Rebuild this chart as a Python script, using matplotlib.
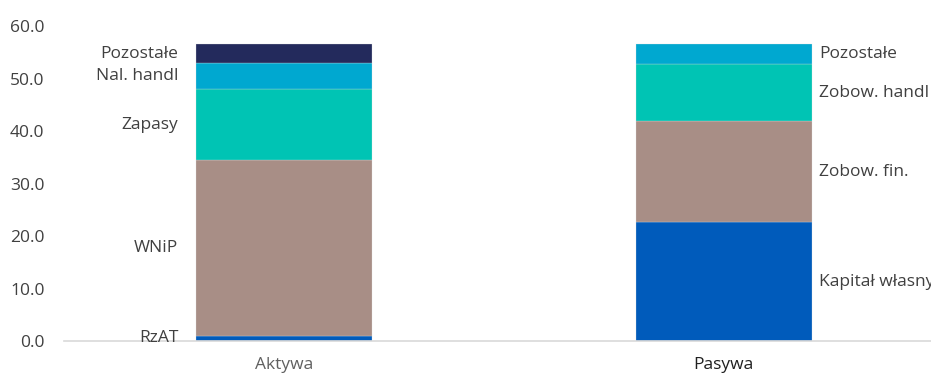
import matplotlib.pyplot as plt
import numpy as np

plt.rcParams['font.family'] = ['Open Sans', 'DejaVu Sans']

kategorie = ['Aktywa', 'Pasywa']

# Aktywa (od dołu)
aktywa_nazwy = ['RzAT', 'WNiP', 'Zapasy', 'Nal. handl', 'Pozostałe']
aktywa_wart = [1.0, 33.5, 13.5, 4.9, 3.7]
aktywa_kolory = ['#005bbb', '#a88e86', '#00c4b4', '#00a8d0', '#232a5c']

# Pasywa (od dołu)
pasywa_nazwy = ['Kapitał własny', 'Zobow. fin.', 'Zobow. handl', 'Pozostałe']
pasywa_wart = [22.6, 19.3, 10.8, 3.9]
pasywa_kolory = ['#005bbb', '#a88e86', '#00c4b4', '#00a8d0']

fig = plt.figure(figsize=(9.31, 3.74), dpi=100)
ax = fig.add_axes([0.0687, 0.088, 0.945, 0.842])

szer = 0.4
kolor_tekstu = '#404040'
rozm = 12.5

dol = 0
for nazwa, w, k in zip(aktywa_nazwy, aktywa_wart, aktywa_kolory):
    ax.bar(0, w, bottom=dol, width=szer, color=k, edgecolor='#dcdcdc', linewidth=0.2)
    ax.text(-0.24, dol + w / 2, nazwa, ha='right', va='center', fontsize=rozm, color=kolor_tekstu)
    dol += w

dol = 0
for nazwa, w, k in zip(pasywa_nazwy, pasywa_wart, pasywa_kolory):
    ax.bar(1, w, bottom=dol, width=szer, color=k, edgecolor='#dcdcdc', linewidth=0.2)
    ax.text(1.216, dol + w / 2, nazwa, ha='left', va='center', fontsize=rozm, color=kolor_tekstu)
    dol += w

ax.set_xlim(-0.5, 1.5)
ax.set_ylim(0, 60)
ax.set_yticks(np.arange(0, 61, 10))
ax.set_yticklabels([f'{v:.1f}' for v in np.arange(0, 61, 10)])
ax.set_xticks([0, 1])
ax.set_xticklabels(kategorie)

for s in ['top', 'right', 'left']:
    ax.spines[s].set_visible(False)
ax.spines['bottom'].set_color('#d9d9d9')
ax.spines['bottom'].set_linewidth(1.2)
ax.tick_params(axis='both', length=0, labelsize=rozm, colors=kolor_tekstu)
ax.get_xticklabels()[0].set_color('#606060')
ax.get_xticklabels()[1].set_color('#202020')
ax.tick_params(axis='x', pad=11.5)
ax.tick_params(axis='y', pad=14)

fig.savefig('out.png', dpi=100)
